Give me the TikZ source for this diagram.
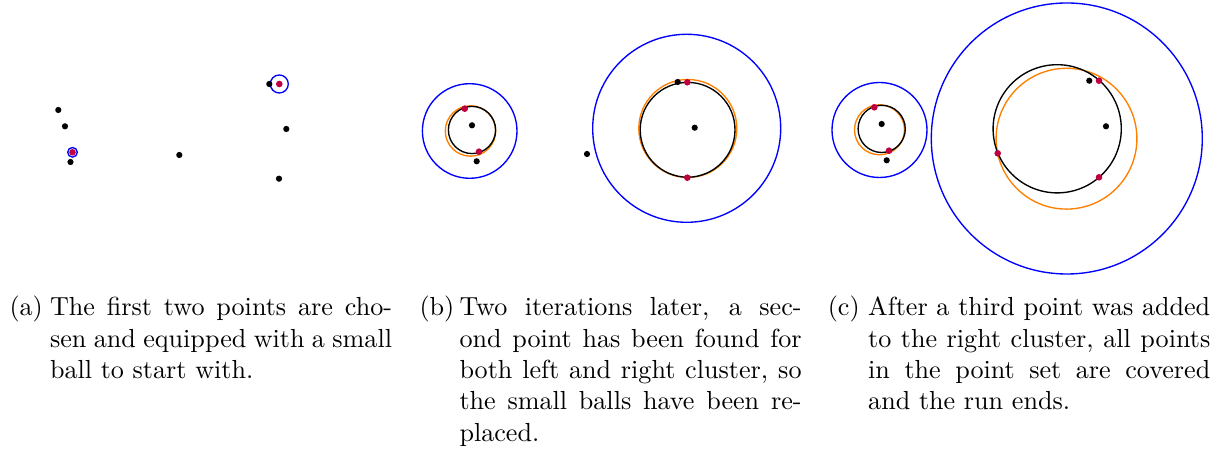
\documentclass[tikz,border=0pt]{standalone}
\definecolor{pblue}{RGB}{0,0,255}
\definecolor{porange}{RGB}{255,128,0}
\definecolor{pred}{RGB}{191,0,64}
\newcommand\capl[1]{\makebox[131pt][s]{#1}\\}
\tikzset{
  ball/.style={draw=pblue, line width=0.52pt},
  mincirc/.style={draw=black, line width=0.52pt},
  approx/.style={draw=porange, line width=0.52pt},
  pt/.style={fill=black},
  rpt/.style={fill=pred},
  lbl/.style={anchor=base west, inner sep=0pt},
}
\begin{document}
\begin{tikzpicture}[x=0.383pt, y=-0.383pt]
\useasboundingbox (0,0) rectangle (1225,450);
% ---------- panel (a)
\draw[ball] (72.5,152.3) circle[radius=4.8];
\draw[ball] (279.3,84) circle[radius=9];
\foreach \p in {(58.3,110),(65,126.3),(70.5,162),(179.3,155),(269.3,84),(286.3,129),(279,178.7)}
  \fill[pt] \p circle[radius=3.1];
\fill[rpt] (72.5,152.3) circle[radius=3.3];
\fill[rpt] (279.3,84) circle[radius=3.3];
% ---------- panel (b)
\draw[ball] (469.7,131) circle[radius=47.3];
\draw[approx] (470.5,131) circle[radius=25.2];
\draw[mincirc] (472,130) circle[radius=23.6];
\draw[ball] (686.7,128.3) circle[radius=94];
\draw[approx] (687.8,128.5) circle[radius=49];
\draw[mincirc] (687.6,129.8) circle[radius=47.4];
\foreach \p in {(472,125.3),(476.7,161.3),(587,154),(677.7,82),(694.7,127.7)}
  \fill[pt] \p circle[radius=3.1];
\foreach \p in {(464.7,108.7),(479,151.7),(687.3,82.3),(687.3,177.7)}
  \fill[rpt] \p circle[radius=3.3];
% ---------- panel (c)
\draw[ball] (879.5,130) circle[radius=47.5];
\draw[approx] (879.5,129.8) circle[radius=25];
\draw[mincirc] (881.7,128.9) circle[radius=23.6];
\draw[ball] (1066.8,138.5) circle[radius=135.5];
\draw[approx] (1066.5,138.7) circle[radius=70.4];
\draw[mincirc] (1057.2,128.8) circle[radius=64.1];
\foreach \p in {(881.7,124),(886.7,160.3),(1089.3,80.7),(1106,126.3)}
  \fill[pt] \p circle[radius=3.1];
\foreach \p in {(874.3,107.3),(889,150.7),(1099,80.7),(997.7,153.3),(1099,177.3)}
  \fill[rpt] \p circle[radius=3.3];
% ---------- captions
\node[lbl] (la) at (9,315.7) {(a)};
\node[lbl] (ta) at (49.5,315.7) {\parbox[t]{131pt}{%
  \capl{The first two points are cho-}%
  \capl{sen and equipped with a small}%
  ball to start with.}};
\node[lbl] (lb) at (419,315.7) {(b)};
\node[lbl] (tb) at (459,315.7) {\parbox[t]{131pt}{%
  \capl{Two iterations later, a sec-}%
  \capl{ond point has been found for}%
  \capl{both left and right cluster, so}%
  \capl{the small balls have been re-}%
  placed.}};
\node[lbl] (lc) at (827.3,315.7) {(c)};
\node[lbl] (tc) at (867.7,315.7) {\parbox[t]{131pt}{%
  \capl{After a third point was added}%
  \capl{to the right cluster, all points}%
  \capl{in the point set are covered}%
  and the run ends.}};
\end{tikzpicture}
\end{document}
